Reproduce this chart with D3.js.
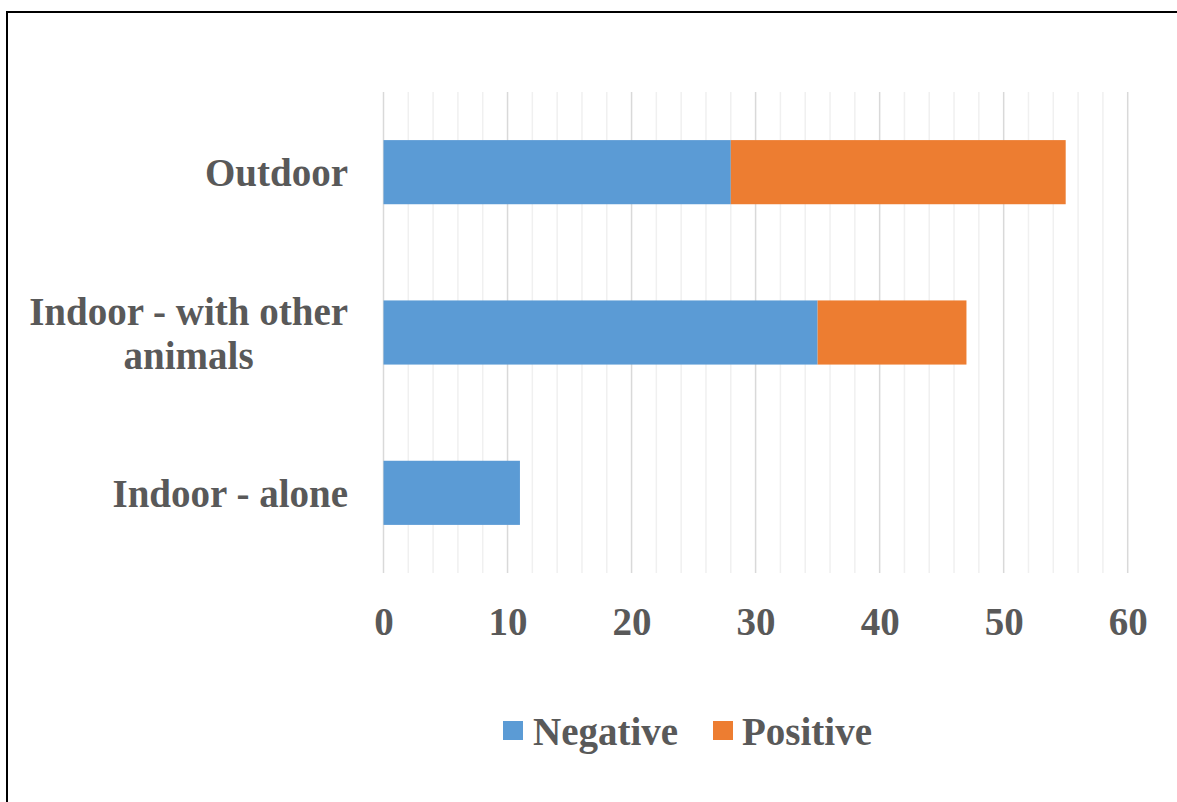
<!DOCTYPE html>
<html>
<head>
<meta charset="utf-8">
<script src="https://cdn.jsdelivr.net/npm/d3@7"></script>
<style>
  html, body { margin: 0; padding: 0; background: #fff; }
  svg { display: block; }
  text { font-family: "Liberation Serif", "Times New Roman", serif; font-weight: bold; fill: #595959; }
</style>
</head>
<body>
<svg id="chart" width="1177" height="802"></svg>
<script>
// Housing situation vs. outcome counts
const categories = ["Outdoor", "Indoor - with other animals", "Indoor - alone"];
const seriesNames = ["Negative", "Positive"];
const negativeValues = [28, 35, 11];
const positiveValues = [27, 12, 0];
const xTicks = [0, 10, 20, 30, 40, 50, 60];
const colors = ["#5B9BD5", "#ED7D31"];

const svg = d3.select("#chart");
const W = 1177, H = 802;
const plot = { left: 383.5, right: 1127.7, top: 92, bottom: 573 };

// frame around the figure
svg.append("path")
  .attr("d", `M7,${H} V12 H${W}`)
  .attr("fill", "none")
  .attr("stroke", "#000")
  .attr("stroke-width", 2);

const x = d3.scaleLinear().domain([0, 60]).range([plot.left, plot.right]);
const y = d3.scaleBand().domain(categories)
  .range([plot.top, plot.bottom])
  .paddingInner(0.6).paddingOuter(0.3);

// minor and major vertical gridlines
const minor = d3.range(0, 61, 2).filter(v => v % 10 !== 0);
svg.append("g").selectAll("line").data(minor).join("line")
  .attr("x1", d => x(d)).attr("x2", d => x(d))
  .attr("y1", plot.top).attr("y2", plot.bottom)
  .attr("stroke", "#f0f0f0").attr("stroke-width", 1.5);
svg.append("g").selectAll("line").data(xTicks).join("line")
  .attr("x1", d => x(d)).attr("x2", d => x(d))
  .attr("y1", plot.top).attr("y2", plot.bottom)
  .attr("stroke", "#d9d9d9").attr("stroke-width", 1.5);

// stacked bars
const rows = categories.map((c, i) => ({ cat: c, Negative: negativeValues[i], Positive: positiveValues[i] }));
const stacked = d3.stack().keys(seriesNames)(rows);
svg.append("g").selectAll("g").data(stacked).join("g")
  .attr("fill", (d, i) => colors[i])
  .selectAll("rect").data(d => d.filter(s => s[1] > s[0])).join("rect")
  .attr("x", d => x(d[0]))
  .attr("width", d => x(d[1]) - x(d[0]))
  .attr("y", d => y(d.data.cat))
  .attr("height", y.bandwidth());

// x axis tick labels
const xAxis = d3.axisBottom(x).tickValues(xTicks).tickSize(0).tickPadding(0);
const gx = svg.append("g").attr("transform", `translate(0,${635})`).call(xAxis);
gx.select(".domain").remove();
gx.selectAll("text")
  .attr("dy", 0).attr("y", 0)
  .style("font-size", "39px")
  .attr("fill", "#595959");

// category labels, wrapped and right-aligned as a block
const labelRight = 348;
const maxLabelWidth = 330;
const gy = svg.append("g");
categories.forEach(cat => {
  const words = cat.split(" ");
  const probe = gy.append("text").style("font-size", "39px");
  const lines = [];
  let cur = [];
  words.forEach(w => {
    const trial = cur.concat(w).join(" ");
    probe.text(trial);
    if (probe.node().getComputedTextLength() > maxLabelWidth && cur.length) {
      lines.push(cur.join(" "));
      cur = [w];
    } else {
      cur.push(w);
    }
  });
  lines.push(cur.join(" "));
  const widths = lines.map(l => { probe.text(l); return probe.node().getComputedTextLength(); });
  probe.remove();
  const blockW = d3.max(widths);
  const cx = labelRight - blockW / 2;
  const lineH = 44;
  const cy = y(cat) + y.bandwidth() / 2;
  const firstBase = cy + 14 - (lines.length - 1) * lineH / 2;
  lines.forEach((l, k) => {
    gy.append("text")
      .attr("x", cx)
      .attr("y", firstBase + k * lineH)
      .attr("text-anchor", "middle")
      .style("font-size", "39px")
      .text(l);
  });
});

// legend
const legendItems = [
  { name: seriesNames[0], color: colors[0], sx: 503, tx: 533 },
  { name: seriesNames[1], color: colors[1], sx: 713, tx: 742 }
];
const lg = svg.append("g");
legendItems.forEach(it => {
  lg.append("rect").attr("x", it.sx).attr("y", 721).attr("width", 20).attr("height", 19).attr("fill", it.color);
  lg.append("text").attr("x", it.tx).attr("y", 745).style("font-size", "39px").text(it.name);
});
</script>
</body>
</html>
